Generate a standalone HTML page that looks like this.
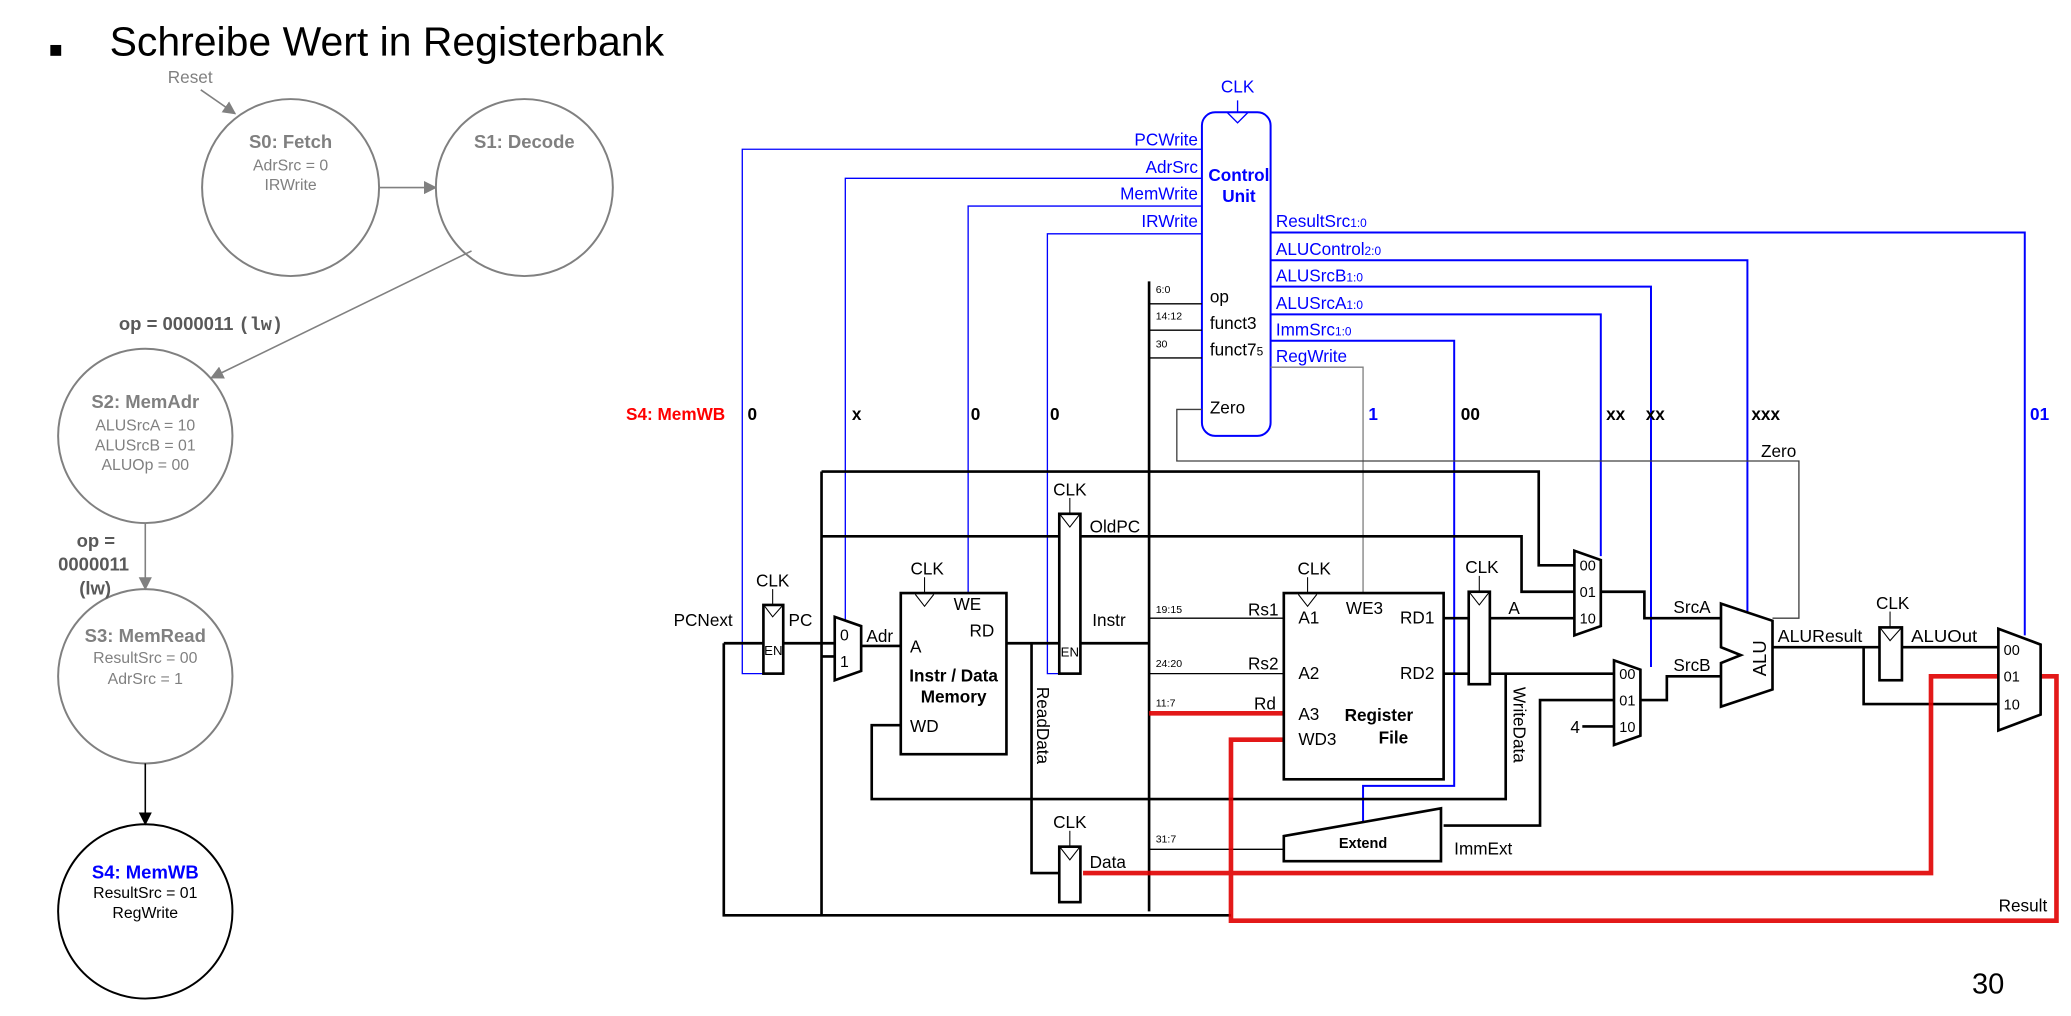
<!DOCTYPE html>
<html><head><meta charset="utf-8"><style>
html,body{margin:0;padding:0;background:#fff;}
svg{display:block;}
text{font-family:"Liberation Sans",Arial,sans-serif;}
</style></head><body>
<svg width="2071" height="1016" viewBox="0 0 1568 769.2" preserveAspectRatio="none" xmlns="http://www.w3.org/2000/svg">
<defs>
<marker id="ag" markerWidth="10" markerHeight="10" refX="9" refY="5" orient="auto" markerUnits="userSpaceOnUse"><path d="M0,0 L10,5 L0,10 z" fill="#808080"/></marker>
<marker id="ak" markerWidth="10" markerHeight="10" refX="9" refY="5" orient="auto" markerUnits="userSpaceOnUse"><path d="M0,0 L10,5 L0,10 z" fill="#000"/></marker>
</defs>
<rect width="1568" height="770" fill="#fff"/>
<text x="37" y="43" font-size="17">■</text>
<text x="83" y="42" font-size="31">Schreibe Wert in Registerbank</text>

<g fill="#fff" stroke="#808080" stroke-width="1.5">
<circle cx="220" cy="142" r="67"/>
<circle cx="397" cy="142" r="67"/>
<circle cx="110" cy="330" r="66"/>
<circle cx="110" cy="512" r="66"/>
</g>
<circle cx="110" cy="690" r="66" fill="#fff" stroke="#000" stroke-width="1.5"/>
<g stroke="#808080" stroke-width="1.2" fill="none">
<path d="M152,68 L178,86" marker-end="url(#ag)"/>
<path d="M287,142 L330,142" marker-end="url(#ag)"/>
<path d="M357,190 L160,286" marker-end="url(#ag)"/>
<path d="M110,396 L110,446" marker-end="url(#ag)"/>
</g>
<path d="M110,578 L110,624" stroke="#000" stroke-width="1.2" marker-end="url(#ak)"/>
<g fill="#808080" text-anchor="middle">
<text x="144" y="63" font-size="13">Reset</text>
<text x="220" y="112" font-size="14" font-weight="bold">S0: Fetch</text>
<text x="220" y="129" font-size="12">AdrSrc = 0</text>
<text x="220" y="144" font-size="12">IRWrite</text>
<text x="397" y="112" font-size="14" font-weight="bold">S1: Decode</text>
<text x="110" y="309" font-size="14" font-weight="bold">S2: MemAdr</text>
<text x="110" y="326" font-size="12">ALUSrcA = 10</text>
<text x="110" y="341" font-size="12">ALUSrcB = 01</text>
<text x="110" y="356" font-size="12">ALUOp = 00</text>
<text x="110" y="486" font-size="14" font-weight="bold">S3: MemRead</text>
<text x="110" y="502" font-size="12">ResultSrc = 00</text>
<text x="110" y="518" font-size="12">AdrSrc = 1</text>
</g>
<g fill="#595959" font-size="14" font-weight="bold">
<text x="90" y="250">op = 0000011 <tspan font-family="Liberation Mono,monospace">(lw)</tspan></text>
<text x="58" y="414">op =</text>
<text x="44" y="432">0000011</text>
<text x="60" y="450" font-family="Liberation Mono,monospace">(lw)</text>
</g>
<text x="110" y="665" font-size="14" font-weight="bold" fill="#0000ff" text-anchor="middle">S4: MemWB</text>
<text x="110" y="680" font-size="12" text-anchor="middle">ResultSrc = 01</text>
<text x="110" y="695" font-size="12" text-anchor="middle">RegWrite</text>

<rect x="910" y="85" width="52" height="245" rx="10" fill="#fff" stroke="#0000ff" stroke-width="1.5"/>
<path d="M929,85 L937,93 L945,85" fill="none" stroke="#0000ff"/>
<line x1="937" y1="76" x2="937" y2="85" stroke="#0000ff"/>
<g fill="#0000ff" font-size="13">
<text x="937" y="70" text-anchor="middle">CLK</text>
<text x="938" y="137" text-anchor="middle" font-weight="bold">Control</text>
<text x="938" y="153" text-anchor="middle" font-weight="bold">Unit</text>
<text x="907" y="110" text-anchor="end">PCWrite</text>
<text x="907" y="131" text-anchor="end">AdrSrc</text>
<text x="907" y="151" text-anchor="end">MemWrite</text>
<text x="907" y="172" text-anchor="end">IRWrite</text>
<text x="966" y="172">ResultSrc<tspan font-size="9">1:0</tspan></text>
<text x="966" y="193">ALUControl<tspan font-size="9">2:0</tspan></text>
<text x="966" y="213">ALUSrcB<tspan font-size="9">1:0</tspan></text>
<text x="966" y="234">ALUSrcA<tspan font-size="9">1:0</tspan></text>
<text x="966" y="254">ImmSrc<tspan font-size="9">1:0</tspan></text>
<text x="966" y="274">RegWrite</text>
</g>
<g font-size="13">
<text x="916" y="229">op</text>
<text x="916" y="249">funct3</text>
<text x="916" y="269">funct7<tspan font-size="9">5</tspan></text>
<text x="916" y="313">Zero</text>
</g>
<g fill="none" stroke="#0000ff" stroke-width="1">
<path d="M910,113 L562,113 L562,510 L585,510 L585,500"/>
<path d="M910,135 L640,135 L640,470"/>
<path d="M910,156 L733,156 L733,452"/>
<path d="M910,177 L793,177 L793,510 L815,510 L815,500"/>
</g>
<g fill="none" stroke="#0000ff" stroke-width="1.5">
<path d="M962,176 L1533,176 L1533,481"/>
<path d="M962,197 L1323,197 L1323,465"/>
<path d="M962,217 L1250,217 L1250,505"/>
<path d="M962,238 L1212,238 L1212,421"/>
<path d="M962,258 L1101,258 L1101,595 L1032,595 L1032,622"/>
</g>
<path d="M962,278 L1032,278 L1032,450" fill="none" stroke="#808080" stroke-width="1"/>
<path d="M910,310 L891,310 L891,349 L1362,349 L1362,468 L1342,468" fill="none" stroke="#404040" stroke-width="1"/>
<text x="1360" y="346" font-size="13" text-anchor="end">Zero</text>
<g font-size="13" font-weight="bold">
<text x="474" y="318" fill="#ff0000">S4: MemWB</text>
<text x="566" y="318">0</text>
<text x="645" y="318">x</text>
<text x="735" y="318">0</text>
<text x="795" y="318">0</text>
<text x="1036" y="318" fill="#0000ff">1</text>
<text x="1106" y="318">00</text>
<text x="1216" y="318">xx</text>
<text x="1246" y="318">xx</text>
<text x="1326" y="318">xxx</text>
<text x="1537" y="318" fill="#0000ff">01</text>
</g>

<g fill="none" stroke="#000" stroke-width="2">
<path d="M870,213 L870,690"/>
<path d="M548,487 L578,487"/>
<path d="M548,487 L548,693 L932,693"/>
<path d="M593,487 L632,487"/>
<path d="M622,357 L622,693"/>
<path d="M622,497 L632,497"/>
<path d="M652,489 L682,489"/>
<path d="M682,549 L660,549 L660,605 L1140,605 L1140,510"/>
<path d="M762,487 L802,487"/>
<path d="M781,487 L781,661 L802,661"/>
<path d="M818,487 L870,487"/>
<path d="M622,357 L1165,357 L1165,428 L1192,428"/>
<path d="M622,406 L802,406"/>
<path d="M818,406 L1152,406 L1152,448 L1192,448"/>
<path d="M1093,468 L1112,468"/>
<path d="M1128,468 L1192,468"/>
<path d="M1093,510 L1112,510"/>
<path d="M1128,510 L1222,510"/>
<path d="M1198,550 L1222,550"/>
<path d="M1093,625 L1166,625 L1166,530 L1222,530"/>
<path d="M1212,448 L1245,448 L1245,468 L1303,468"/>
<path d="M1242,530 L1262,530 L1262,512 L1303,512"/>
<path d="M1342,490 L1423,490"/>
<path d="M1440,490 L1513,490"/>
<path d="M1411,490 L1411,533 L1513,533"/>
</g>
<g fill="none" stroke="#000" stroke-width="1">
<path d="M870,230 L910,230"/>
<path d="M870,250 L910,250"/>
<path d="M870,271 L910,271"/>
<path d="M870,468 L972,468"/>
<path d="M870,510 L972,510"/>
<path d="M870,643 L972,643"/>
</g>
<g fill="none" stroke="#e00000" stroke-width="3.5" stroke-linejoin="miter" opacity="0.9">
<path d="M870,540 L972,540"/>
<path d="M820,661 L1462,661 L1462,512 L1557,512 L1557,697 L932,697 L932,560 L972,560"/>
</g>

<g fill="#fff" stroke="#000" stroke-width="2">
<rect x="578" y="458" width="15" height="52"/>
<rect x="802" y="389" width="16" height="121"/>
<rect x="802" y="641" width="16" height="42"/>
<rect x="1112" y="448" width="16" height="70"/>
<rect x="1423" y="475" width="17" height="40"/>
<rect x="682" y="449" width="80" height="122"/>
<rect x="972" y="449" width="121" height="141"/>
<polygon points="632,467 652,474 652,508 632,515"/>
<polygon points="1192,417 1212,424 1212,474 1192,481"/>
<polygon points="1222,500 1242,507 1242,557 1222,564"/>
<polygon points="1513,476 1545,488 1545,541 1513,553"/>
<polygon points="1303,457 1342,470 1342,522 1303,535 1303,502 1318,496 1303,490"/>
<polygon points="972,633 1091,612 1091,652 972,652"/>
</g>
<g fill="none" stroke="#000" stroke-width="0.8">
<path d="M579,459 L585,467 L592,459"/><line x1="585" y1="446" x2="585" y2="458"/>
<path d="M803,390 L810,399 L817,390"/><line x1="810" y1="377" x2="810" y2="389"/>
<path d="M803,642 L810,651 L817,642"/><line x1="810" y1="629" x2="810" y2="641"/>
<path d="M1113,449 L1120,458 L1127,449"/><line x1="1120" y1="436" x2="1120" y2="448"/>
<path d="M1424,476 L1431,485 L1439,476"/><line x1="1431" y1="463" x2="1431" y2="475"/>
<path d="M693,450 L700,459 L707,450"/><line x1="700" y1="437" x2="700" y2="449"/>
<path d="M983,450 L990,459 L997,450"/><line x1="990" y1="437" x2="990" y2="449"/>
</g>
<g font-size="13">
<text x="585" y="444" text-anchor="middle">CLK</text>
<text x="810" y="375" text-anchor="middle">CLK</text>
<text x="810" y="627" text-anchor="middle">CLK</text>
<text x="1122" y="434" text-anchor="middle">CLK</text>
<text x="1433" y="461" text-anchor="middle">CLK</text>
<text x="702" y="435" text-anchor="middle">CLK</text>
<text x="995" y="435" text-anchor="middle">CLK</text>
<text x="585.5" y="496" font-size="10" text-anchor="middle">EN</text>
<text x="810" y="497" font-size="10" text-anchor="middle">EN</text>
<text x="510" y="474">PCNext</text>
<text x="597" y="474">PC</text>
<text x="656" y="486">Adr</text>
<text x="636" y="485" font-size="12">0</text>
<text x="636" y="505" font-size="12">1</text>
<text x="722" y="462">WE</text>
<text x="734" y="482">RD</text>
<text x="689" y="494">A</text>
<text x="722" y="516" font-weight="bold" text-anchor="middle">Instr / Data</text>
<text x="722" y="532" font-weight="bold" text-anchor="middle">Memory</text>
<text x="689" y="554">WD</text>
<text x="825" y="403">OldPC</text>
<text x="827" y="474">Instr</text>
<text x="825" y="657">Data</text>
<text x="1019" y="465">WE3</text>
<text x="983" y="472">A1</text>
<text x="1086" y="472" text-anchor="end">RD1</text>
<text x="983" y="514">A2</text>
<text x="1086" y="514" text-anchor="end">RD2</text>
<text x="983" y="545">A3</text>
<text x="983" y="564">WD3</text>
<text x="1044" y="546" font-weight="bold" text-anchor="middle">Register</text>
<text x="1055" y="563" font-weight="bold" text-anchor="middle">File</text>
<text x="1032" y="642" font-size="11" font-weight="bold" text-anchor="middle">Extend</text>
<text x="1101" y="647">ImmExt</text>
<text x="1142" y="465">A</text>
<text x="968" y="466" text-anchor="end">Rs1</text>
<text x="968" y="507" text-anchor="end">Rs2</text>
<text x="966" y="537" text-anchor="end">Rd</text>
<text x="1267" y="464">SrcA</text>
<text x="1267" y="508">SrcB</text>
<text x="1346" y="486" textLength="64" lengthAdjust="spacingAndGlyphs">ALUResult</text>
<text x="1447" y="486" textLength="50" lengthAdjust="spacingAndGlyphs">ALUOut</text>
<text x="1550" y="690" text-anchor="end">Result</text>
<text x="1189" y="555">4</text>
<text transform="translate(785,520) rotate(90)">ReadData</text>
<text transform="translate(1146,520) rotate(90)">WriteData</text>
<text transform="translate(1337,512) rotate(-90)" font-size="14">ALU</text>
</g>
<g font-size="11">
<text x="1196" y="432">00</text><text x="1196" y="452">01</text><text x="1196" y="472">10</text>
<text x="1226" y="514">00</text><text x="1226" y="534">01</text><text x="1226" y="554">10</text>
<text x="1517" y="496">00</text><text x="1517" y="516">01</text><text x="1517" y="537">10</text>
</g>
<g font-size="8">
<text x="875" y="222">6:0</text>
<text x="875" y="242">14:12</text>
<text x="875" y="263">30</text>
<text x="875" y="464">19:15</text>
<text x="875" y="505">24:20</text>
<text x="875" y="535">11:7</text>
<text x="875" y="638">31:7</text>
</g>
<text x="1493" y="752" font-size="22">30</text>
</svg>
</body></html>
